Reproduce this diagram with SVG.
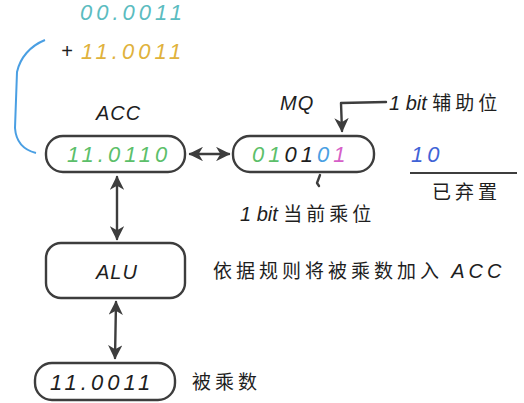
<svg xmlns="http://www.w3.org/2000/svg" width="524" height="403" viewBox="0 0 524 403">
<style>
.box{fill:none;stroke:#3d3d3d;stroke-width:2.4}
.c{fill:none;stroke:#3d3d3d;stroke-width:2.4;stroke-linecap:round;stroke-linejoin:round}
.t{font-family:"Liberation Sans","Noto Sans CJK SC",sans-serif;font-style:italic;fill:#1e1e1e;font-size:20px}
.cn{font-family:"Noto Sans CJK SC",sans-serif;font-style:normal;fill:#1e1e1e;font-size:19px;letter-spacing:4px}
.num{font-family:"Liberation Sans",sans-serif;font-style:italic;font-size:22px;letter-spacing:4px}
</style>
<defs>
<marker id="ah" viewBox="0 0 10 10" refX="9" refY="5" markerWidth="6" markerHeight="6" orient="auto-start-reverse">
<path d="M0,0 L10,5 L0,10 L3,5 Z" fill="#3d3d3d"/>
</marker>
</defs>
<g id="sum">
<text class="num" x="80" y="20" fill="#5bbcc0">00.0011</text>
<text class="t" x="61" y="58" font-size="22">+</text>
<text class="num" x="81" y="59" fill="#e0b23c">11.0011</text>
<path d="M45,40 C30,46 20,58 17,72 L15,128 C16,142 24,150 36,153" fill="none" stroke="#4a9fe3" stroke-width="2"/>
</g>
<g id="acc">
<text class="t" x="96" y="120" letter-spacing="1">ACC</text>
<rect class="box" x="46" y="136" width="139" height="36" rx="17"/>
<text class="num" x="67" y="162" fill="#5cbf6a">11.0110</text>
</g>
<g id="mq">
<text class="t" x="280" y="110" letter-spacing="1">MQ</text>
<rect class="box" x="233" y="136" width="141" height="36" rx="17"/>
<text class="num" x="252" y="162" letter-spacing="5"><tspan fill="#5cbf6a">01</tspan><tspan fill="#1e1e1e">01</tspan><tspan fill="#4a9fe3">0</tspan><tspan fill="#d65fc8">1</tspan></text>
</g>
<g id="aux">
<text class="t" x="389" y="110">1 bit <tspan class="cn">辅助位</tspan></text>
</g>
<g id="cur">
<text class="t" x="240" y="221">1 bit <tspan class="cn">当前乘位</tspan></text>
</g>
<g id="discard">
<text class="num" x="411" y="162" fill="#3f63d6">10</text>
<line x1="410" y1="173" x2="517" y2="173" stroke="#3d3d3d" stroke-width="2"/>
<text class="cn" x="432" y="199">已弃置</text>
</g>
<g id="alu">
<rect class="box" x="46" y="243" width="139" height="55" rx="15"/>
<text class="t" x="96" y="279" letter-spacing="1">ALU</text>
<text class="cn" x="213" y="278">依据规则将被乘数加入 <tspan class="t">ACC</tspan></text>
</g>
<g id="multiplicand">
<rect class="box" x="35" y="363" width="140" height="37" rx="17"/>
<text class="num" x="50" y="390" fill="#1e1e1e">11.0011</text>
<text class="cn" x="192" y="389">被乘数</text>
</g>
<g id="connectors">
<line class="c" x1="190" y1="154" x2="229" y2="154" marker-start="url(#ah)" marker-end="url(#ah)"/>
<line class="c" x1="117" y1="177" x2="117" y2="239" marker-start="url(#ah)" marker-end="url(#ah)"/>
<line class="c" x1="116" y1="302" x2="115" y2="358" marker-start="url(#ah)" marker-end="url(#ah)"/>
<polyline class="c" points="386,102 341,103 342,131" marker-end="url(#ah)"/>
<path class="c" d="M320,175 L317,183 L319,186"/>
</g>
</svg>
